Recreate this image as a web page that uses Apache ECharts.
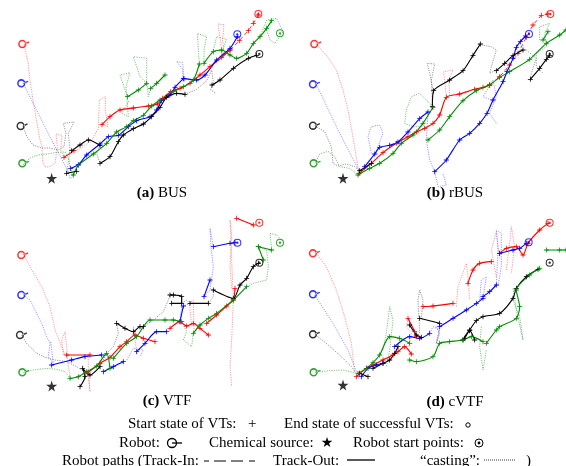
<!DOCTYPE html>
<html><head><meta charset="utf-8">
<script src="https://cdn.jsdelivr.net/npm/echarts@6/dist/echarts.min.js"></script>
<style>html,body{margin:0;padding:0;background:#fff}#c{width:566px;height:466px}</style>
</head><body><div id="c"></div><script>
// Panel titles
const panelLetters = ['(a)', '(b)', '(c)', '(d)'];
const panelNames = ['BUS', 'rBUS', 'VTF', 'cVTF'];
const robotColors = ['red', 'blue', 'black', 'green'];

// ---- Panel (a) BUS ----  (coordinates in picture units, panel width 849, height 600)
const robots_a = [[65,132],[62,250],[60,378],[65,490]];
const starts_a = [[775,42],[712,103],[778,162],[840,100]];
const source_a = [[155,535]];
const a_red_cast = [[72,132],[84,186],[90,240],[99,300],[111,369],[120,420],[126,441],[129,489],[135,501],[150,500],[165,490],[172,440],[168,402],[186,406],[182,450],[192,472],null,[226,452],[250,440],[275,420],[295,385],[298,300],[316,290],[316,330],[324,380],[306,374],null,[666,172],[662,125],[654,72],[672,74],[668,120],[672,160]];
const a_red_out = [[192,472],[222,452],null,[306,374],[330,350],[360,330],[400,324],[445,318],[472,312],[488,295],[512,275],[540,265],[570,250],[600,225],[630,200],[665,172],[690,150]];
const a_red_in = [[690,150],[718,122],[745,92],[760,70],[775,45]];
const a_blue_cast = [[69,249],[150,411],[205,515],[210,535],[218,530],[212,505],null,[550,236],[546,205],[530,185],[548,188],[552,236]];
const a_blue_out = [[212,505],[235,494],[260,465],[300,432],[325,410],[355,406],[385,380],[410,362],[450,350],[470,330],[485,302],[510,285],[525,262],[550,236],null,[552,236],[590,240],[615,225],[650,180],[690,145],[712,110]];
const a_black_cast = [[69,378],[81,411],[99,435],[126,444],[150,444],[175,450],[192,440],[198,400],[190,370],[222,366],[205,400],[210,450],[200,520],null,[300,436],[290,460],[300,490],null,[555,283],[590,268],[620,242],[635,210],[640,248],[632,270],[648,280]];
const a_black_out = [[200,520],[230,514],null,[215,452],[240,435],[265,420],[300,436],null,[300,490],[330,470],[355,425],[370,405],[400,386],[430,372],[455,350],[480,322],[500,292],[530,280],[555,283],null,[636,255],[660,240],[700,205],[745,175],[770,166]];
const a_green_cast = [[69,495],[90,474],[114,465],[141,462],[165,458],[195,456],[208,480],[210,510],[220,525],null,[382,290],[360,225],[390,218],[378,260],[385,350],[365,340],[388,300],null,[440,250],[420,230],[400,170],[440,175],[440,240],[445,290],[452,265],null,[598,192],[592,100],[620,110],[612,150],[612,190],null,[640,150],[650,110],[680,118],[668,150],[665,168],null,[780,110],[800,60],[830,55],[849,95],[825,130],[810,120],[800,90]];
const a_green_out = [[220,525],[235,496],[280,462],[320,430],[350,396],[380,380],[400,362],[430,346],[455,318],[480,300],[520,275],[550,260],[580,240],[598,192],null,[382,290],[415,270],[440,250],null,[452,265],[470,250],[495,225],null,[612,190],[640,155],[665,150],[690,165],[710,175],[740,160],[760,130],[780,110],[800,85],[815,62]];

// ---- Panel (b) rBUS ----
const robots_b = [[92,132],[88,253],[88,377],[90,490]];
const starts_b = [[802,42],[738,102],[800,162]];
const source_b = [[180,535]];
const b_red_cast = [[100,132],[130,165],[160,210],[180,270],[195,330],[208,400],[218,460],[228,520],null,[490,290],[482,215],[510,210],[498,240],[500,290]];
const b_red_out = [[228,520],[265,490],[300,458],[340,430],[375,410],[400,396],[425,385],[450,370],[470,345],[490,292],[530,282],[575,268],[600,262],[620,255]];
const b_red_in = [[620,255],[650,230],[680,195],[705,160],[730,112],[750,75],[775,46],[795,42]];
const b_blue_cast = [[100,253],[165,390],[235,525],null,[265,460],[255,410],[265,380],[290,375],[300,400],[285,440],[275,470],null,[435,340],[430,420],[440,480],[455,515],[465,560],[490,555],[480,520],null,[625,300],[600,290],[630,240],[640,290],[620,340],[640,370]];
const b_blue_out = [[245,500],[275,462],[290,442],[320,436],[345,426],[375,396],[410,356],[435,336],null,[455,515],[490,480],[530,420],[560,400],[590,370],[612,340],[630,300],[660,245],[672,215],[690,175],[700,142],[712,125],[728,108]];
const b_black_cast = [[95,377],[125,395],[145,440],[150,490],[165,498],[190,492],[215,500],[230,512],null,[450,270],[440,220],[432,190],[455,192],[445,240],[448,300],null,[595,135],[625,140],[640,150],[628,190],[620,220],[640,210],null,[730,150],[760,175],[745,220],[742,240]];
const b_black_out = [[230,512],[265,490],null,[448,320],[452,272],[500,240],[540,212],[570,166],[592,132],null,[640,212],[665,190],[690,167],[720,150],null,[742,238],[770,205],[790,178],[800,166]];
const b_green_cast = [[96,490],[110,462],[135,454],[155,470],[170,500],[200,505],[225,525],null,[450,320],[430,300],[410,280],[385,290],[370,330],[365,370],[390,380],[420,380],null,[770,120],[770,80],[800,70],[785,100],[790,140],[760,160],[760,200],[780,220]];
const b_green_out = [[225,525],[260,505],[290,490],[330,460],[355,430],[390,405],[420,370],[450,322],null,[435,420],[470,390],[500,350],[540,302],[580,272],[620,255],[650,232],[680,215],[740,178],[790,130],[830,105],[849,90],null,[780,120],[795,95]];

// ---- Panel (c) VTF ---- (height 630)
const robots_c = [[62,165],[62,285],[58,405],[65,517]];
const starts_c = [[778,68],[712,128],[778,188],[840,128]];
const source_c = [[155,558]];
const c_red_cast = [[70,162],[90,200],[125,260],[150,320],[165,390],[185,440],[195,465],null,[190,465],[185,420],[195,395],[200,440],[205,500],[212,540],null,[265,470],[265,520],[270,575],[265,520],null,[405,405],[400,380],[408,440],[412,460],null,[575,375],[568,310],[580,300],[582,390],null,[695,265],[690,200],[695,100],[690,60],[700,300],[695,420],[690,500],[695,560]];
const c_red_out = [[200,465],[270,465],null,[262,520],[300,490],[330,472],[360,440],[380,425],[405,405],[430,415],[465,425],null,[510,385],[540,365],[560,378],[580,370],[600,385],[625,405],null,[620,370],[650,345],[680,318],[700,300],[705,265],null,[710,55],[760,75]];
const c_blue_cast = [[70,285],[90,300],[110,340],[125,370],[140,410],[150,430],[145,470],[160,490],[152,425],null,[380,480],[400,445],[430,450],[420,470],null,[540,360],[545,320],[570,310],null,[612,290],[630,270],[640,200],[632,130],[630,85],[640,140]];
const c_blue_out = [[155,495],[215,480],[255,470],[305,465],null,[310,515],[340,500],[370,485],null,[410,455],[435,430],[470,395],[500,395],null,[540,365],[550,318],null,[612,290],[630,240],null,[640,140],[690,130],[705,128]];
const c_black_cast = [[65,405],[80,430],[110,460],[135,472],[165,480],[200,485],[230,500],[245,510],null,[300,500],[320,460],[340,440],[355,400],[350,370],null,[430,380],[460,360],[490,335],[505,300],[510,285],null,[545,310],[560,300],[570,310],null,[625,310],[640,290],[640,270]];
const c_black_out = [[240,560],[255,530],[248,505],[270,525],[300,500],null,[350,370],[375,385],[400,395],[420,380],[430,380],null,[510,285],[520,285],[545,290],[545,310],[515,310],null,[570,310],[625,310],null,[640,270],[700,295],[720,255],[740,235],[760,200],[775,190]];
const c_green_cast = [[70,517],[100,510],[140,505],[170,508],[195,515],[210,535],null,[545,365],[560,395],[550,420],[575,440],[580,400],null,[740,260],[760,250],[800,240],[805,200],[800,150],[775,140],null,[815,150],[810,100],[830,105],[849,125]];
const c_green_out = [[210,535],[235,530],[260,515],[290,498],[320,460],[330,505],null,[340,475],[380,430],[410,410],[450,360],[495,360],[520,360],[545,365],null,[580,400],[600,375],[625,355],[650,340],[700,300],[740,260],null,[775,140],[815,150],null,[775,140],[790,180]];

// ---- Panel (d) cVTF ---- (height 630)
const robots_d = [[88,160],[88,283],[88,403],[90,517]];
const starts_d = [[800,68],[737,127],[800,188]];
const source_d = [[180,555]];
const d_red_cast = [[100,160],[130,200],[160,270],[185,350],[205,430],[215,520],null,[375,355],[370,380],[385,400],[378,440],null,[520,320],[525,260],[550,190],[555,230],[560,300],null,[640,230],[625,150],[640,95],[650,180],null,[670,210],[680,130],[685,80],[695,140],[685,220]];
const d_red_out = [[220,530],[250,505],[270,495],[300,480],[330,465],[345,455],[365,440],[385,462],null,[375,355],[395,395],[400,410],null,[420,320],[450,318],[510,310],null,[555,250],[570,210],[590,190],[625,185],null,[650,160],[670,145],[700,140],[720,165],[735,130],[770,90],[795,70]];
const d_blue_cast = [[95,285],[150,370],[195,450],[228,535],null,[440,400],[450,380],[470,390],[460,430],[470,380],null,[590,300],[595,240],[610,230],[600,295],null,[640,255],[645,150],[640,90],[655,100],[655,200],[645,260]];
const d_blue_out = [[235,530],[255,505],[280,495],[300,490],null,[335,440],[380,410],[410,415],[440,400],null,[470,380],[510,355],[550,330],[580,310],[600,295],null,[600,290],[620,275],[640,255],null,[650,160],[690,150],[710,145],[730,130]];
const d_black_cast = [[95,403],[130,430],[175,470],[205,500],[220,520],null,[410,400],[405,300],[410,270],[420,300],[415,355],null,[460,430],[470,400],[460,380]];
const d_black_out = [[230,520],[255,530],null,[270,505],[300,490],[320,480],[335,460],[345,440],null,[380,375],[400,405],[415,412],null,[410,355],[470,370],null,[540,420],[560,392],[575,420],null,[545,415],[560,390],[580,362],[600,350],[650,340],[690,295],[700,265],[730,230],[765,208]];
const d_green_cast = [[95,517],[140,512],[180,510],[215,518],null,[300,450],[310,400],[320,320],[330,360],[320,450],[310,500],null,[595,380],[590,440],[600,510],[610,450],null,[690,265],[700,330],[720,420],[710,350],[690,300]];
const d_green_out = [[225,520],[250,505],[270,488],[290,465],[320,410],[350,415],[380,430],null,[380,480],[400,485],[450,470],[470,430],[500,425],[540,420],[565,410],[600,425],null,[610,430],[640,390],[650,380],[700,355],[710,320],[700,270],[740,225],[770,205],null,[790,150],[830,150],[849,150]];

// ---------------- build ----------------
const SOLID = {red:'#ff0000', blue:'#0000ff', black:'#000000', green:'#008c00'};
const CAST  = {red:'#ff5a5a', blue:'#5a5aff', black:'#5a5a5a', green:'#30a030'};
const panels = [
  {robots:robots_a, starts:starts_a, source:source_a, cast:[a_red_cast,a_blue_cast,a_black_cast,a_green_cast], out:[a_red_out,a_blue_out,a_black_out,a_green_out], tin:[a_red_in,[],[],[]]},
  {robots:robots_b, starts:starts_b, source:source_b, cast:[b_red_cast,b_blue_cast,b_black_cast,b_green_cast], out:[b_red_out,b_blue_out,b_black_out,b_green_out], tin:[b_red_in,[],[],[]]},
  {robots:robots_c, starts:starts_c, source:source_c, cast:[c_red_cast,c_blue_cast,c_black_cast,c_green_cast], out:[c_red_out,c_blue_out,c_black_out,c_green_out], tin:[[],[],[],[]]},
  {robots:robots_d, starts:starts_d, source:source_d, cast:[d_red_cast,d_blue_cast,d_black_cast,d_green_cast], out:[d_red_out,d_blue_out,d_black_out,d_green_out], tin:[[],[],[],[]]}
];
function split(arr){const res=[];let cur=[];for(const p of arr){if(p===null){if(cur.length)res.push(cur);cur=[];}else cur.push(p);}if(cur.length)res.push(cur);return res;}

const PLUS = 'path://M4.2,0H5.8V4.2H10V5.8H5.8V10H4.2V5.8H0V4.2H4.2Z';
const ROBOT_SYM = 'path://M0,6a6,6 0 1,0 12,0a6,6 0 1,0 -12,0z M2.2,6a3.8,3.8 0 1,1 7.6,0a3.8,3.8 0 1,1 -7.6,0z M10.5,4.2L16,2.2L16,4.2L11.2,6.2z';
const START_SYM = 'path://M0,5a5,5 0 1,0 10,0a5,5 0 1,0 -10,0z M1.3,5a3.7,3.7 0 1,1 7.4,0a3.7,3.7 0 1,1 -7.4,0z M3.5,5a1.5,1.5 0 1,0 3,0a1.5,1.5 0 1,0 -3,0z';
const STAR = 'path://M50,0L61,35L98,35L68,57L79,91L50,70L21,91L32,57L2,35L39,35Z';

const grids = [
  {left:0, top:0, width:283, height:200},
  {left:283, top:0, width:283, height:200},
  {left:0, top:200, width:283, height:210},
  {left:283, top:200, width:283, height:210}
];
const yMax = [600,600,630,630];
const xAxis = grids.map((g,i)=>({type:'value', gridIndex:i, min:0, max:849, show:false}));
const yAxis = grids.map((g,i)=>({type:'value', gridIndex:i, min:0, max:yMax[i], inverse:true, show:false}));

const series = [];
panels.forEach((p,gi)=>{
  robotColors.forEach((c,ci)=>{
    split(p.cast[ci]).forEach(seg=>series.push({type:'line', xAxisIndex:gi, yAxisIndex:gi, data:seg, symbol:'none', silent:true, z:1,
      lineStyle:{color:CAST[c], width:0.9, type:[1.2,1.2], opacity:0.7}}));
  });
  robotColors.forEach((c,ci)=>{
    split(p.tin[ci]).forEach(seg=>series.push({type:'line', xAxisIndex:gi, yAxisIndex:gi, data:seg, symbol:PLUS, symbolSize:5, showSymbol:true, silent:true, z:2,
      itemStyle:{color:SOLID[c]}, lineStyle:{color:SOLID[c], width:1, type:[4,3], opacity:0.8}}));
    split(p.out[ci]).forEach(seg=>series.push({type:'line', xAxisIndex:gi, yAxisIndex:gi, data:seg, smooth:0.25, symbol:PLUS, symbolSize:5, showSymbol:true, silent:true, z:3,
      itemStyle:{color:SOLID[c]}, lineStyle:{color:SOLID[c], width:1.1}}));
  });
  series.push({type:'scatter', xAxisIndex:gi, yAxisIndex:gi, symbol:ROBOT_SYM, symbolSize:[11,8.5], symbolOffset:[2,0], silent:true, z:5,
    data:p.robots.map((v,i)=>({value:v, itemStyle:{color:SOLID[robotColors[i]]}}))});
  series.push({type:'scatter', xAxisIndex:gi, yAxisIndex:gi, symbol:START_SYM, symbolSize:8, silent:true, z:5,
    data:p.starts.map((v,i)=>({value:v, itemStyle:{color:SOLID[robotColors[i]]}}))});
  series.push({type:'scatter', xAxisIndex:gi, yAxisIndex:gi, symbol:STAR, symbolSize:11, silent:true, z:5,
    itemStyle:{color:'#000'}, data:p.source});
});

const FONT = 'Liberation Serif, Times New Roman, serif';
const titlePos = [[162,193],[455,193],[167,401],[455,402]];
const graphic = [];
titlePos.forEach((t,i)=>{
  graphic.push({type:'text', x:t[0], y:t[1], style:{text:'{b|'+panelLetters[i]+'} '+panelNames[i], align:'center', verticalAlign:'middle',
    font:'15px '+FONT, fill:'#000', rich:{b:{fontWeight:'bold', fontSize:15, fontFamily:FONT}}}});
});
function txt(s,x,y){graphic.push({type:'text', x:x, y:y, style:{text:s, font:'15px '+FONT, fill:'#000', verticalAlign:'middle'}});}
function ln(x1,y1,x2,y2,w,dash){graphic.push({type:'line', shape:{x1:x1,y1:y1,x2:x2,y2:y2}, style:{stroke:'#000', lineWidth:w||1, lineDash:dash||null}});}
// line 1
txt('Start state of VTs:',128,424);
txt('+',248,424);
txt('End state of successful VTs:',284,424);
graphic.push({type:'circle', shape:{cx:468,cy:425,r:2.2}, style:{fill:'none', stroke:'#000', lineWidth:1}});
// line 2
txt('Robot:',119,443);
graphic.push({type:'circle', shape:{cx:172,cy:443,r:4.5}, style:{fill:'none', stroke:'#000', lineWidth:1.3}});
ln(172,443,182,443,1.3);
txt('Chemical source:',209,443);
graphic.push({type:'text', x:327, y:443, style:{text:'★', font:'14px DejaVu Sans', fill:'#000', align:'center', verticalAlign:'middle'}});
txt('Robot start points:',353,443);
graphic.push({type:'circle', shape:{cx:479,cy:443,r:4}, style:{fill:'none', stroke:'#000', lineWidth:1}});
graphic.push({type:'circle', shape:{cx:479,cy:443,r:1.4}, style:{fill:'#000'}});
// line 3
txt('Robot paths (Track-In:',62,461);
ln(204,461,209,461,1); ln(214,461,226,461,1); ln(231,461,243,461,1); ln(249,461,255,461,1);
txt('Track-Out:',273,461);
ln(347,460,375,460,1.3);
txt('\u201Ccasting\u201D:',420,461);
ln(484,460,516,460,0.8,[1,1]);
txt(')',526,461);

const chart = echarts.init(document.getElementById('c'), null, {renderer:'canvas'});
chart.setOption({animation:false, backgroundColor:'#fff', grid:grids, xAxis:xAxis, yAxis:yAxis, series:series, graphic:graphic});
</script></body></html>
